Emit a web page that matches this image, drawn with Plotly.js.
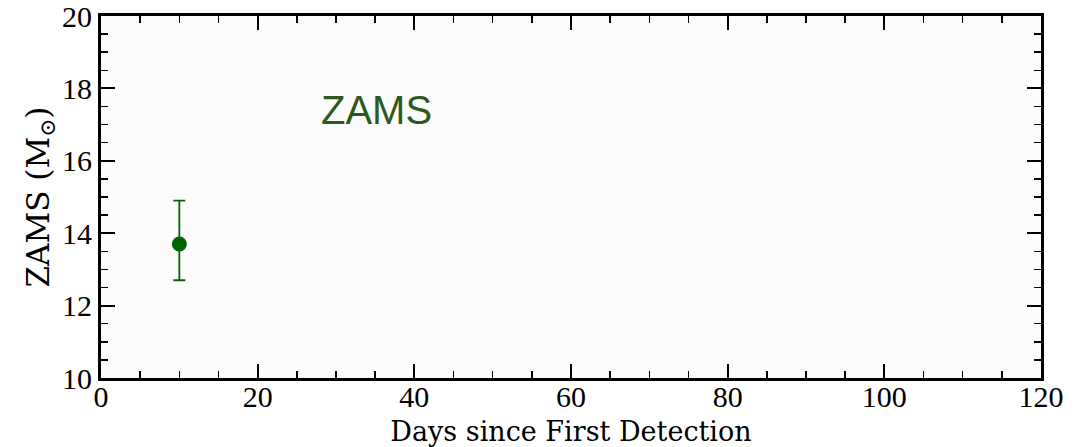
<!DOCTYPE html>
<html>
<head>
<meta charset="utf-8">
<script src="https://cdn.plot.ly/plotly-3.0.1.min.js"></script>
<style>
  html, body { margin: 0; padding: 0; background: #ffffff; }
  #chart { width: 1076px; height: 447px; }
</style>
</head>
<body>
<div id="chart"></div>
<script>
// ZAMS mass estimate versus days since first detection
const days = [10];
const zamsMass = [13.7];
const errPlus = [1.2];
const errMinus = [1.0];

const xTickVals = [0, 20, 40, 60, 80, 100, 120];
const yTickVals = [10, 12, 14, 16, 18, 20];

const green = '#006400';
const serif = '"Liberation Serif", "DejaVu Serif", serif';
const titleSerif = '"DejaVu Serif", "Liberation Serif", serif';

const trace = {
  x: days,
  y: zamsMass,
  type: 'scatter',
  mode: 'markers',
  marker: { color: green, size: 15 },
  error_y: {
    type: 'data',
    symmetric: false,
    array: errPlus,
    arrayminus: errMinus,
    color: green,
    thickness: 1.8,
    width: 6
  },
  hoverinfo: 'x+y'
};

const axisCommon = {
  showgrid: false,
  zeroline: false,
  showline: true,
  linecolor: '#000',
  linewidth: 3,
  mirror: 'allticks',
  ticks: 'inside',
  ticklen: 14,
  tickwidth: 2,
  tickcolor: '#000',
  ticklabeloverflow: 'allow',
  tickfont: { family: serif, size: 30, color: '#000' }
};

const layout = {
  width: 1076,
  height: 447,
  margin: { l: 101, r: 35, t: 16, b: 69 },
  paper_bgcolor: '#ffffff',
  plot_bgcolor: '#fcfcfc',
  showlegend: false,
  xaxis: Object.assign({}, axisCommon, {
    range: [0, 120],
    tickvals: xTickVals,
    ticktext: xTickVals.map(String),
    ticklabelstandoff: -10,
    minor: { ticks: 'inside', dtick: 5, tick0: 0, ticklen: 7, tickwidth: 1.5, tickcolor: '#000' },
    title: { text: 'Days since First Detection', font: { family: titleSerif, size: 27, color: '#000' }, standoff: 14 }
  }),
  yaxis: Object.assign({}, axisCommon, {
    range: [10, 20],
    tickvals: yTickVals,
    ticktext: yTickVals.map(String),
    minor: { ticks: 'inside', dtick: 0.5, tick0: 10, ticklen: 7, tickwidth: 1.5, tickcolor: '#000' },
    title: { text: 'ZAMS (M<sub>⊙</sub>)', font: { family: titleSerif, size: 31, color: '#000' }, standoff: 4 }
  }),
  annotations: [{
    x: 35.2, y: 17.4, xref: 'x', yref: 'y',
    text: 'ZAMS',
    showarrow: false,
    font: { family: '"Liberation Sans", Arial, sans-serif', size: 40, color: '#2d5a1c' }
  }]
};

Plotly.newPlot('chart', [trace], layout, { displayModeBar: false, staticPlot: true });
</script>
</body>
</html>
